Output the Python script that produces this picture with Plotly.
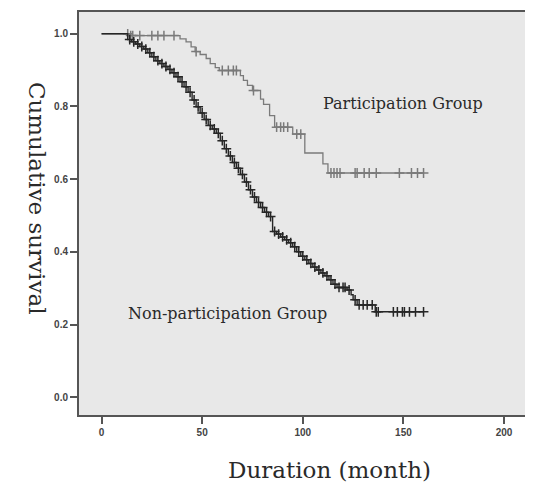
import plotly.graph_objects as go
import numpy as np

# Participation group (gray): step times and survival levels
part_times = [0, 13.4, 39, 42, 44.5, 46.5, 49, 52, 54, 56.5, 58.5, 69, 70.5, 72.5, 75, 79, 80.5, 83.5, 86, 95, 101, 110, 112.5, 160]
part_surv = [1.0, 0.995, 0.986, 0.978, 0.964, 0.951, 0.943, 0.932, 0.918, 0.907, 0.899, 0.885, 0.872, 0.858, 0.844, 0.820, 0.806, 0.775, 0.743, 0.724, 0.672, 0.642, 0.617, 0.617]
part_censor = [13, 14.5, 15.5, 19, 25, 28, 31, 36, 47, 60, 63, 65.5, 67, 75.5, 87, 89, 90.5, 92.5, 97, 99,
               114, 115.5, 117, 118.5, 126, 127, 130.5, 133, 136.5, 148, 154, 157, 160]

# Non-participation group (black)
non_times = [0, 13, 15, 17, 19, 21, 23, 25, 27, 29, 31, 33, 35, 37, 39, 41, 43, 45, 47, 49, 51, 53, 55, 57, 59,
             61, 63, 65, 67, 69, 71, 73, 75, 77, 79, 81, 83, 85, 87, 89, 91, 93, 95, 97, 99, 101, 103, 105,
             107, 109, 111, 113, 115, 117, 122, 124, 125, 127, 136, 160]
non_surv = [1.0, 0.984, 0.978, 0.972, 0.965, 0.958, 0.948, 0.937, 0.926, 0.918, 0.910, 0.902, 0.893, 0.882,
            0.868, 0.854, 0.839, 0.818, 0.799, 0.782, 0.764, 0.748, 0.738, 0.726, 0.706, 0.684, 0.664, 0.646,
            0.630, 0.613, 0.592, 0.571, 0.551, 0.536, 0.522, 0.509, 0.497, 0.456, 0.449, 0.441, 0.433, 0.425,
            0.414, 0.400, 0.388, 0.378, 0.368, 0.358, 0.350, 0.342, 0.334, 0.323, 0.311, 0.302, 0.295, 0.282,
            0.268, 0.254, 0.235, 0.235]
non_censor = [14, 16, 18, 20, 22, 24, 26, 28, 30, 32, 34, 36, 38, 40, 42, 44, 46, 48, 50, 52, 54, 56, 58, 60,
              62, 64, 66, 68, 70, 72, 74, 76, 78, 80, 82, 84, 86, 88, 90, 92, 94, 96, 98, 100, 102, 104, 106,
              108, 110, 112, 114, 116, 118, 120, 121, 123, 126, 128, 130, 132, 134.5, 136.5, 137.5, 145, 147,
              149.5, 150.5, 153, 156, 160]

x_ticks = [0, 50, 100, 150, 200]
y_ticks = [0.0, 0.2, 0.4, 0.6, 0.8, 1.0]


def surv_at(times, surv, t):
    idx = np.searchsorted(np.array(times), t, side="right") - 1
    return surv[max(idx, 0)]


GRAY = "#7a7a7a"
BLACK = "#262626"

fig = go.Figure()
fig.add_trace(go.Scatter(x=part_times, y=part_surv, mode="lines", line=dict(shape="hv", color=GRAY, width=1.3),
                         hoverinfo="skip", showlegend=False))
fig.add_trace(go.Scatter(x=part_censor, y=[surv_at(part_times, part_surv, t) for t in part_censor], mode="markers",
                         marker=dict(symbol="cross-thin", size=7, line=dict(color=GRAY, width=1.5)),
                         showlegend=False))
fig.add_trace(go.Scatter(x=non_times, y=non_surv, mode="lines", line=dict(shape="hv", color=BLACK, width=1.4),
                         hoverinfo="skip", showlegend=False))
fig.add_trace(go.Scatter(x=non_censor, y=[surv_at(non_times, non_surv, t) for t in non_censor], mode="markers",
                         marker=dict(symbol="cross-thin", size=7, line=dict(color=BLACK, width=1.5)),
                         showlegend=False))

serif = "DejaVu Serif"
fig.add_annotation(x=149.7, y=0.808, xref="x", yref="y", text="Participation Group", showarrow=False,
                   font=dict(family=serif, size=16, color="#2a2a2a"))
fig.add_annotation(x=62.6, y=0.23, xref="x", yref="y", text="Non-participation Group", showarrow=False,
                   font=dict(family=serif, size=16, color="#2a2a2a"))
fig.add_annotation(x=-0.126, y=0.538, xref="paper", yref="paper", text="Cumulative survival", showarrow=False,
                   textangle=90, font=dict(family=serif, size=23, color="#2a2a2a"))
fig.add_annotation(x=0.557, y=-0.136, xref="paper", yref="paper", text="Duration (month)", showarrow=False,
                   yanchor="middle", font=dict(family=serif, size=23, color="#2a2a2a"))

# page body has an 8px margin, so the figure is sized/offset to compensate
fig.update_layout(
    width=525, height=479,
    margin=dict(l=71, r=3, t=2, b=72),
    paper_bgcolor="white", plot_bgcolor="#e8e8e8",
    showlegend=False,
)
axis_common = dict(showgrid=False, zeroline=False, showline=True, mirror=True, linecolor="#555", linewidth=2,
                   ticks="outside", ticklen=7, tickwidth=2, tickcolor="#555",
                   tickfont=dict(family="Liberation Sans", size=10, color="#444", weight="bold"))
fig.update_xaxes(range=[-11.2, 212.4], tickvals=x_ticks, ticktext=[str(v) for v in x_ticks], **axis_common)
fig.update_yaxes(range=[-0.049, 1.06], tickvals=y_ticks, ticktext=[f"{v:.1f}" for v in y_ticks], **axis_common)

fig.write_html("out.html")
